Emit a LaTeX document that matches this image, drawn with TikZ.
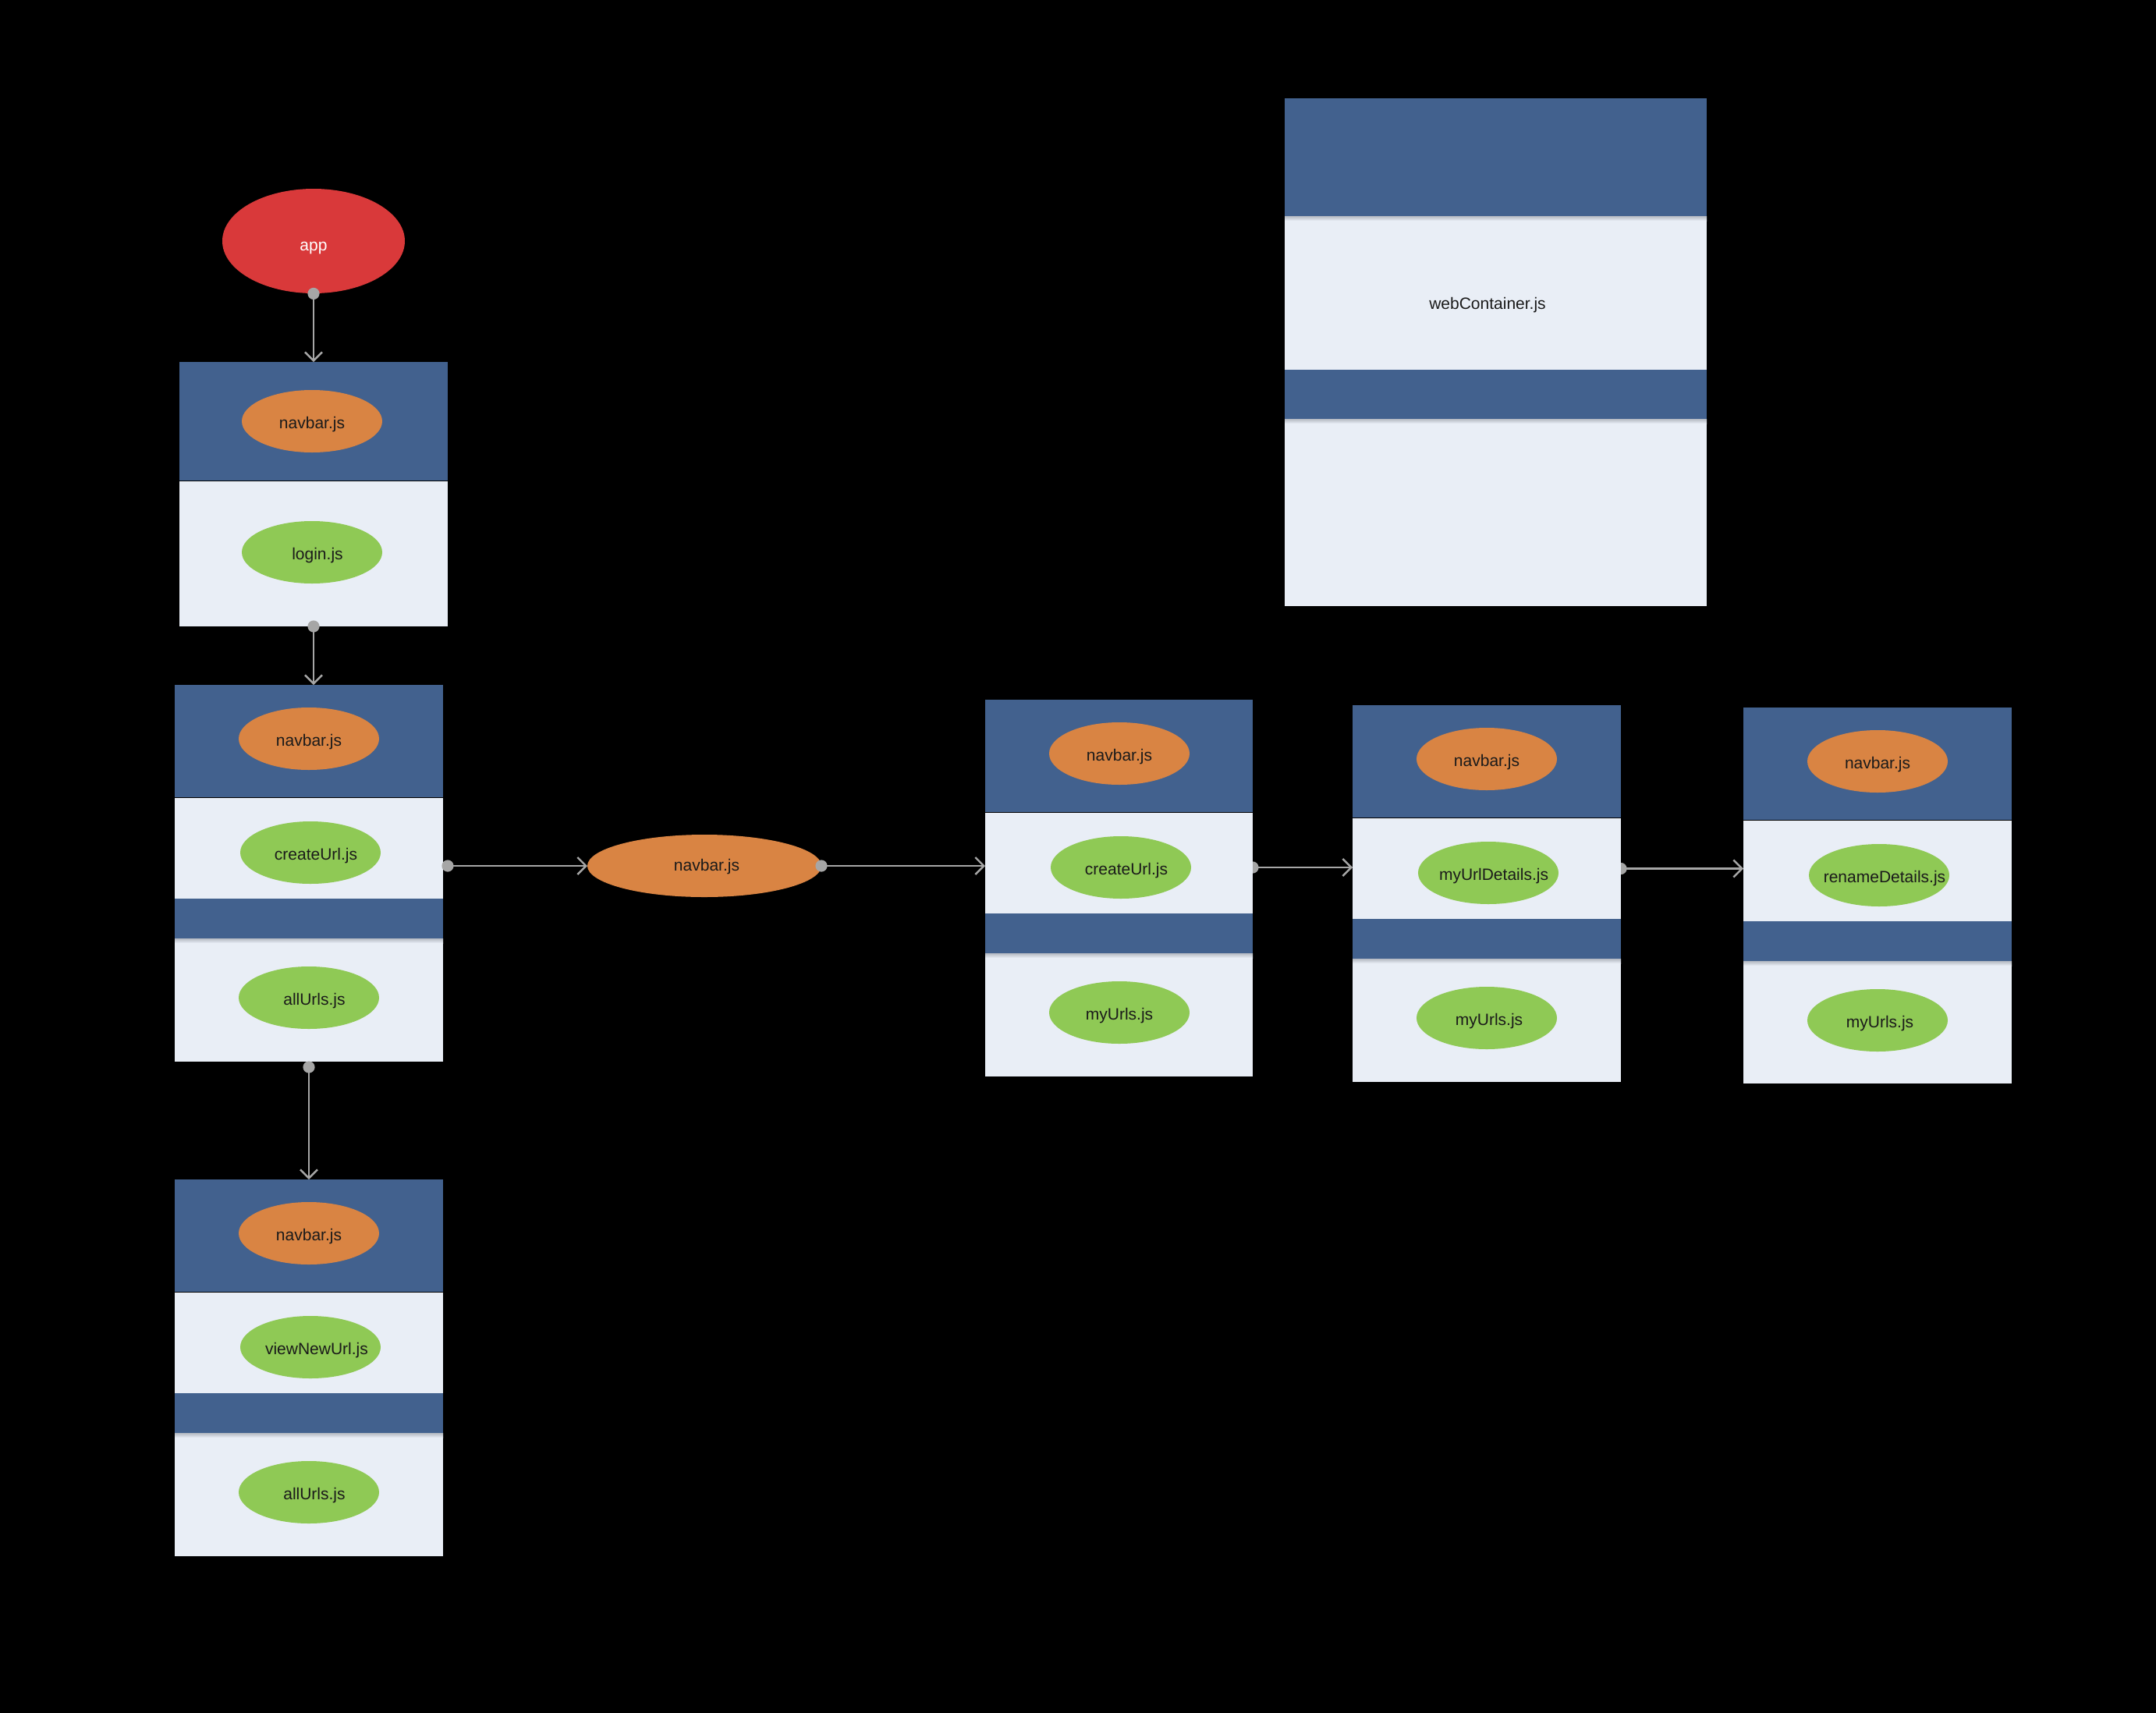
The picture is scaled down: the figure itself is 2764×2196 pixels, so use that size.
\documentclass[tikz,border=0pt]{standalone}
\usepackage{fontspec}
\setmainfont{Liberation Sans}
\usetikzlibrary{arrows.meta,shapes.geometric}
\definecolor{hdrc}{HTML}{42618E}
\definecolor{panec}{HTML}{E9EEF6}
\definecolor{orangec}{HTML}{D98443}
\definecolor{greenc}{HTML}{8FC955}
\definecolor{redc}{HTML}{D9393A}
\definecolor{connc}{HTML}{A6A6A6}
\definecolor{shdc}{HTML}{B4B9C2}
\definecolor{txtc}{HTML}{1A1A1A}
\pgfdeclarelayer{back}
\pgfdeclarelayer{bg}
\pgfsetlayers{back,bg,main}
\newcommand\zt[2][0pt]{\makebox[0pt]{\hspace*{#1}#2\hspace*{-#1}}}
\newcommand\slab[6]{\node[#2, anchor=north west, minimum width={(#5)*0.5pt}, minimum height={(#6)*0.5pt}] (#1) at (#3,#4) {};}
\begin{document}
\begin{tikzpicture}[x=0.5pt,y=-0.5pt,
  hdr/.style={fill=hdrc, draw=none, inner sep=0pt, outer sep=0pt},
  pane/.style={fill=panec, draw=none, inner sep=0pt, outer sep=0pt},
  lbl/.style={text=txtc, font=\fontsize{10.5}{12}\selectfont, text height=11pt, text depth=2pt},
  file/.style={ellipse, lbl, inner sep=0pt, outer sep=0pt, minimum width=90pt, minimum height=40pt},
  navf/.style={file, fill=orangec},
  grnf/.style={file, fill=greenc},
  conn/.style={draw=connc, line width=1.2pt, -{Straight Barb[length=5.5pt,width=11pt,line width=1.2pt]}},
  dotc/.style={fill=connc}]
\begin{pgfonlayer}{back}
\fill[black] (0,0) rectangle (2764,2196);
\end{pgfonlayer}
\useasboundingbox (0,0) rectangle (2764,2196);

% app
\node[ellipse, fill=redc, inner sep=0pt, minimum width=117pt, minimum height=67pt, font=\fontsize{10.5}{12}\selectfont, text=white, text height=14pt, text depth=2pt] (app) at (402,309) {\zt{app}};

% box 1
\slab{b1h}{hdr}{230}{464}{344}{152}
\slab{b1a}{pane}{230}{617}{344}{186}
\node[navf] (b1n) at (400,540) {\zt{navbar.js}};
\node[grnf] (b1g) at (400,708) {\zt[3.5pt]{login.js}};

% box 2
\slab{b2h}{hdr}{224}{878}{344}{144}
\slab{b2a}{pane}{224}{1023}{344}{129}
\slab{b2m}{hdr}{224}{1152}{344}{51}
\slab{b2b}{pane}{224}{1203}{344}{158}
\node[navf] (b2n) at (396,947) {\zt{navbar.js}};
\node[grnf] (b2g) at (398,1093) {\zt[3.5pt]{createUrl.js}};
\node[grnf] (b2k) at (396,1279) {\zt[3.5pt]{allUrls.js}};

% box 4
\slab{b4h}{hdr}{224}{1512}{344}{144}
\slab{b4a}{pane}{224}{1657}{344}{129}
\slab{b4m}{hdr}{224}{1786}{344}{51}
\slab{b4b}{pane}{224}{1837}{344}{158}
\node[navf] (b4n) at (396,1581) {\zt{navbar.js}};
\node[grnf] (b4g) at (398,1727) {\zt[4pt]{viewNewUrl.js}};
\node[grnf] (b4k) at (396,1913) {\zt[3.5pt]{allUrls.js}};

% middle navbar
\node[navf, minimum width=150pt, text height=8pt] (nav) at (903,1110) {\zt[1.5pt]{navbar.js}};

% box 3
\slab{b3h}{hdr}{1263}{897}{343}{144}
\slab{b3a}{pane}{1263}{1042}{343}{129}
\slab{b3m}{hdr}{1263}{1171}{343}{51}
\slab{b3b}{pane}{1263}{1222}{343}{158}
\node[navf] (b3n) at (1435,966) {\zt{navbar.js}};
\node[grnf] (b3g) at (1437,1112) {\zt[3.5pt]{createUrl.js}};
\node[grnf] (b3k) at (1435,1298) {\zt{myUrls.js}};

% box 5
\slab{b5h}{hdr}{1734}{904}{344}{144}
\slab{b5a}{pane}{1734}{1049}{344}{129}
\slab{b5m}{hdr}{1734}{1178}{344}{51}
\slab{b5b}{pane}{1734}{1229}{344}{158}
\node[navf] (b5n) at (1906,973) {\zt{navbar.js}};
\node[grnf] (b5g) at (1908,1119) {\zt[3.5pt]{myUrlDetails.js}};
\node[grnf] (b5k) at (1906,1305) {\zt[1.5pt]{myUrls.js}};

% box 6
\slab{b6h}{hdr}{2235}{907}{344}{144}
\slab{b6a}{pane}{2235}{1052}{344}{129}
\slab{b6m}{hdr}{2235}{1181}{344}{51}
\slab{b6b}{pane}{2235}{1232}{344}{157}
\node[navf] (b6n) at (2407,976) {\zt{navbar.js}};
\node[grnf] (b6g) at (2409,1122) {\zt[3.5pt]{renameDetails.js}};
\node[grnf] (b6k) at (2407,1308) {\zt[1.5pt]{myUrls.js}};

% web container
\slab{wh}{hdr}{1647}{126}{541}{151}
\slab{wa}{pane}{1647}{277}{541}{197}
\slab{wm}{hdr}{1647}{474}{541}{63}
\slab{wb}{pane}{1647}{537}{541}{240}
\node[lbl, inner sep=0pt] (wt) at (1907,387) {webContainer.js};

% shadows under the blue bands
\foreach \n in {b2m,b3m,b4m,b5m,b6m,wh,wm}{
  \shade[top color=shdc, bottom color=panec] (\n.south west) rectangle ([yshift=-3pt]\n.south east);
}

% connectors
\draw[conn] (app.south) -- (b1h.north);
\fill[dotc] (app.south) circle[radius=3.8pt];
\draw[conn] (b1a.south) -- (b1a.south |- b2h.north);
\fill[dotc] (b1a.south) circle[radius=3.8pt];
\draw[conn] ([yshift=-3.5pt]b2b.south) -- (b4h.north);
\fill[dotc] ([yshift=-3.5pt]b2b.south) circle[radius=3.8pt];
\draw[conn] ([xshift=3pt]b2a.east |- nav.west) -- (nav.west);
\fill[dotc] ([xshift=3pt]b2a.east |- nav.west) circle[radius=3.8pt];
\draw[conn] (nav.east) -- (b3a.west |- nav.east);
\fill[dotc] (nav.east) circle[radius=3.8pt];
\begin{pgfonlayer}{bg}
\draw[conn] (b3a.east |- b3g) -- (b5a.west |- b3g);
\fill[dotc] (b3a.east |- b3g) circle[radius=3.8pt];
\draw[conn] (b5a.east) -- (b6a.west |- b5a.east);
\fill[dotc] (b5a.east) circle[radius=3.8pt];
\end{pgfonlayer}
\end{tikzpicture}
\end{document}
